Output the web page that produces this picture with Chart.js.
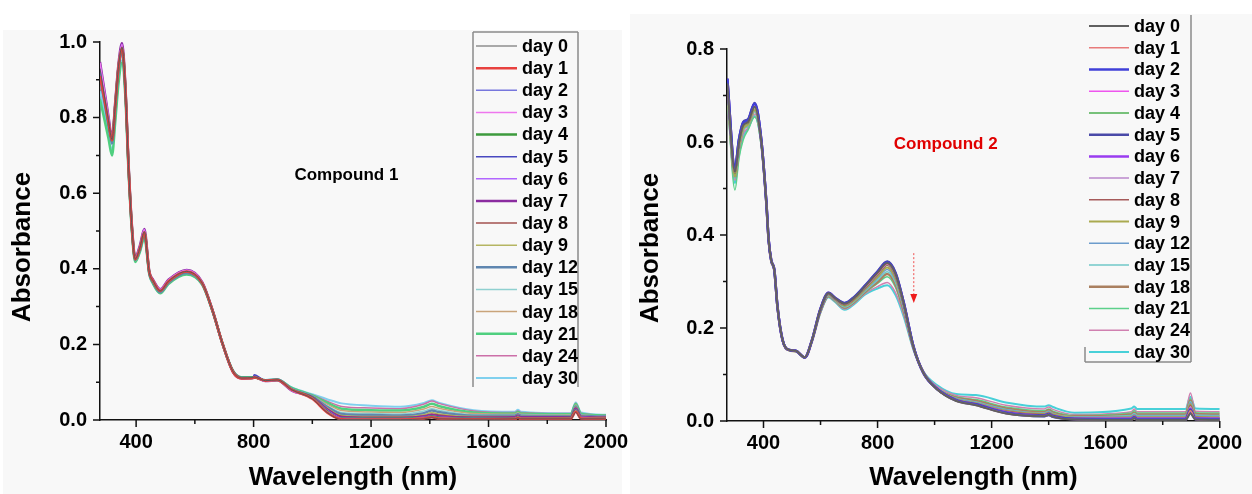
<!DOCTYPE html>
<html>
<head>
<meta charset="utf-8">
<title>Absorbance vs wavelength</title>
<script src="https://cdn.jsdelivr.net/npm/chart.js@4"></script>
<style>
  body { margin: 0; background: #fff; width: 1252px; height: 494px; position: relative; overflow: hidden; }
  .bg { position: absolute; background: #f8f8f8; }
  canvas { position: absolute; top: 0; }
</style>
</head>
<body>
<div class="bg" style="left:3px; top:30px; width:619px; height:464px"></div>
<div class="bg" style="left:630px; top:14px; width:622px; height:480px"></div>
<canvas id="chart1" width="640" height="494" style="left:0"></canvas>
<canvas id="chart2" width="640" height="494" style="left:612px"></canvas>
<script>
const days = ['day 0', 'day 1', 'day 2', 'day 3', 'day 4', 'day 5', 'day 6', 'day 7',
              'day 8', 'day 9', 'day 12', 'day 15', 'day 18', 'day 21', 'day 24', 'day 30'];

const xTicks = [400, 800, 1200, 1600, 2000];
const xMinor = [600, 1000, 1400, 1800];
const yTicks1 = [0, 0.2, 0.4, 0.6, 0.8, 1.0];
const yMinor1 = [0.1, 0.3, 0.5, 0.7, 0.9];
const yTicks2 = [0, 0.2, 0.4, 0.6, 0.8];
const yMinor2 = [0.1, 0.3, 0.5, 0.7];

// ---- Compound 1 ----
const wavelength1 = [277, 294, 306, 318, 329, 340, 352, 363, 374, 386, 397, 413, 428,
  445, 458, 482, 510, 572, 625, 660, 695, 730, 760, 798, 802, 840, 880, 930,
  1000, 1050, 1100, 1200, 1300, 1380, 1407, 1430, 1550, 1690, 1700, 1710, 1880, 1897, 1915, 2000];

const c1d0 = [0.930, 0.848, 0.792, 0.742, 0.836, 0.936, 0.986, 0.886, 0.676, 0.506, 0.426, 0.456, 0.498,
  0.390, 0.368, 0.342, 0.367, 0.393, 0.362, 0.290, 0.200, 0.128, 0.111, 0.112, 0.114, 0.104, 0.106, 0.080,
  0.056, 0.020, 0.001, 0.001, 0.001, 0.003, 0.006, 0.003, 0.002, 0.003, 0.005, 0.003, 0.003, 0.020, 0.003, 0.003];
const c1d1 = [0.910, 0.840, 0.788, 0.740, 0.834, 0.934, 0.984, 0.884, 0.675, 0.505, 0.425, 0.455, 0.497,
  0.390, 0.368, 0.342, 0.367, 0.393, 0.362, 0.290, 0.200, 0.127, 0.110, 0.111, 0.113, 0.104, 0.106, 0.080,
  0.056, 0.020, 0.002, 0.001, 0.001, 0.004, 0.007, 0.004, 0.002, 0.003, 0.006, 0.003, 0.003, 0.022, 0.004, 0.003];
const c1d2 = [0.925, 0.845, 0.790, 0.741, 0.835, 0.935, 0.985, 0.885, 0.675, 0.505, 0.425, 0.455, 0.497,
  0.390, 0.368, 0.342, 0.367, 0.393, 0.362, 0.290, 0.200, 0.128, 0.111, 0.112, 0.114, 0.104, 0.106, 0.080,
  0.057, 0.021, 0.002, 0.002, 0.002, 0.004, 0.007, 0.004, 0.002, 0.003, 0.006, 0.003, 0.004, 0.022, 0.004, 0.003];
const c1d3 = [0.945, 0.860, 0.800, 0.745, 0.840, 0.940, 0.993, 0.890, 0.680, 0.510, 0.430, 0.460, 0.503,
  0.392, 0.370, 0.345, 0.370, 0.396, 0.364, 0.290, 0.200, 0.127, 0.110, 0.111, 0.114, 0.103, 0.105, 0.078,
  0.057, 0.022, 0.003, 0.002, 0.002, 0.005, 0.008, 0.005, 0.003, 0.004, 0.007, 0.004, 0.004, 0.024, 0.005, 0.004];
const c1d4 = [0.920, 0.843, 0.789, 0.740, 0.834, 0.934, 0.984, 0.884, 0.675, 0.505, 0.425, 0.455, 0.496,
  0.390, 0.367, 0.342, 0.367, 0.393, 0.362, 0.290, 0.200, 0.128, 0.111, 0.112, 0.113, 0.104, 0.106, 0.080,
  0.058, 0.023, 0.003, 0.003, 0.003, 0.005, 0.009, 0.006, 0.003, 0.004, 0.008, 0.004, 0.005, 0.025, 0.005, 0.004];
const c1d5 = [0.928, 0.847, 0.791, 0.742, 0.836, 0.936, 0.988, 0.886, 0.676, 0.506, 0.426, 0.456, 0.498,
  0.391, 0.369, 0.343, 0.368, 0.394, 0.363, 0.290, 0.200, 0.127, 0.110, 0.111, 0.120, 0.105, 0.106, 0.079,
  0.058, 0.024, 0.004, 0.003, 0.003, 0.006, 0.010, 0.007, 0.004, 0.005, 0.009, 0.005, 0.005, 0.026, 0.006, 0.005];
const c1d6 = [0.942, 0.858, 0.799, 0.745, 0.840, 0.940, 0.994, 0.890, 0.680, 0.510, 0.430, 0.460, 0.504,
  0.392, 0.370, 0.345, 0.370, 0.396, 0.364, 0.290, 0.200, 0.127, 0.110, 0.111, 0.114, 0.103, 0.105, 0.078,
  0.059, 0.026, 0.005, 0.004, 0.004, 0.007, 0.011, 0.008, 0.005, 0.006, 0.010, 0.006, 0.006, 0.028, 0.007, 0.005];
const c1d7 = [0.947, 0.862, 0.802, 0.747, 0.842, 0.942, 0.997, 0.892, 0.682, 0.511, 0.431, 0.462, 0.505,
  0.393, 0.371, 0.346, 0.371, 0.397, 0.365, 0.291, 0.200, 0.127, 0.110, 0.111, 0.114, 0.103, 0.105, 0.078,
  0.060, 0.028, 0.007, 0.005, 0.005, 0.009, 0.013, 0.010, 0.006, 0.007, 0.011, 0.007, 0.007, 0.030, 0.008, 0.006];
const c1d8 = [0.922, 0.844, 0.790, 0.740, 0.834, 0.934, 0.984, 0.884, 0.675, 0.505, 0.425, 0.455, 0.497,
  0.390, 0.368, 0.342, 0.367, 0.393, 0.362, 0.290, 0.200, 0.128, 0.111, 0.112, 0.114, 0.104, 0.106, 0.080,
  0.060, 0.030, 0.010, 0.007, 0.007, 0.011, 0.016, 0.013, 0.007, 0.008, 0.012, 0.008, 0.008, 0.032, 0.009, 0.007];
const c1d9 = [0.915, 0.840, 0.787, 0.738, 0.832, 0.932, 0.982, 0.883, 0.674, 0.504, 0.424, 0.454, 0.496,
  0.389, 0.367, 0.341, 0.366, 0.392, 0.361, 0.290, 0.200, 0.128, 0.111, 0.112, 0.113, 0.104, 0.106, 0.081,
  0.061, 0.032, 0.012, 0.009, 0.009, 0.014, 0.020, 0.016, 0.009, 0.009, 0.013, 0.009, 0.009, 0.034, 0.010, 0.008];
const c1d12 = [0.905, 0.833, 0.778, 0.732, 0.823, 0.923, 0.973, 0.877, 0.671, 0.501, 0.423, 0.451, 0.492,
  0.387, 0.364, 0.338, 0.363, 0.389, 0.360, 0.289, 0.200, 0.129, 0.112, 0.112, 0.113, 0.105, 0.107, 0.082,
  0.062, 0.035, 0.016, 0.013, 0.012, 0.018, 0.025, 0.021, 0.011, 0.011, 0.015, 0.011, 0.010, 0.036, 0.011, 0.009];
const c1d15 = [0.895, 0.828, 0.774, 0.728, 0.818, 0.918, 0.968, 0.874, 0.670, 0.500, 0.422, 0.450, 0.490,
  0.387, 0.364, 0.338, 0.363, 0.389, 0.360, 0.289, 0.200, 0.129, 0.112, 0.112, 0.113, 0.105, 0.107, 0.083,
  0.063, 0.038, 0.020, 0.017, 0.016, 0.024, 0.030, 0.026, 0.014, 0.013, 0.017, 0.013, 0.012, 0.038, 0.013, 0.010];
const c1d18 = [0.900, 0.830, 0.775, 0.730, 0.820, 0.920, 0.970, 0.875, 0.670, 0.500, 0.422, 0.450, 0.490,
  0.386, 0.363, 0.337, 0.362, 0.388, 0.359, 0.289, 0.200, 0.129, 0.112, 0.112, 0.113, 0.105, 0.107, 0.083,
  0.064, 0.042, 0.025, 0.021, 0.020, 0.029, 0.036, 0.031, 0.017, 0.015, 0.019, 0.015, 0.013, 0.040, 0.014, 0.011];
const c1d21 = [0.848, 0.788, 0.744, 0.700, 0.790, 0.890, 0.945, 0.860, 0.660, 0.495, 0.418, 0.445, 0.482,
  0.385, 0.360, 0.335, 0.360, 0.385, 0.358, 0.288, 0.200, 0.130, 0.113, 0.113, 0.113, 0.105, 0.107, 0.085,
  0.065, 0.046, 0.030, 0.026, 0.025, 0.035, 0.043, 0.037, 0.020, 0.017, 0.021, 0.017, 0.015, 0.042, 0.016, 0.012];
const c1d24 = [0.898, 0.829, 0.775, 0.729, 0.819, 0.919, 0.969, 0.874, 0.670, 0.500, 0.422, 0.450, 0.490,
  0.386, 0.363, 0.337, 0.362, 0.388, 0.359, 0.289, 0.200, 0.130, 0.112, 0.113, 0.113, 0.105, 0.107, 0.084,
  0.066, 0.050, 0.036, 0.032, 0.030, 0.042, 0.050, 0.044, 0.024, 0.020, 0.024, 0.020, 0.017, 0.044, 0.018, 0.013];
const c1d30 = [0.870, 0.805, 0.755, 0.712, 0.800, 0.900, 0.952, 0.864, 0.662, 0.496, 0.419, 0.446, 0.484,
  0.385, 0.361, 0.336, 0.361, 0.386, 0.358, 0.288, 0.200, 0.130, 0.113, 0.113, 0.113, 0.106, 0.108, 0.086,
  0.068, 0.055, 0.044, 0.038, 0.035, 0.045, 0.052, 0.046, 0.026, 0.022, 0.027, 0.022, 0.018, 0.046, 0.020, 0.014];

// ---- Compound 2 ----
const wavelength2 = [273, 300, 314, 329, 346, 369, 392,
  410, 418, 427, 438, 449, 467, 490, 513, 545, 570,
  599, 628, 651, 685, 720, 754, 800, 834, 863, 892, 926, 961,
  1007, 1076, 1145, 1250, 1385, 1400, 1415, 1490, 1690, 1700, 1710, 1880, 1897, 1915, 2000];

const c2d0 = [0.726, 0.536, 0.598, 0.636, 0.643, 0.676, 0.603,
  0.470, 0.390, 0.346, 0.325, 0.246, 0.174, 0.153, 0.151, 0.137, 0.174,
  0.239, 0.275, 0.264, 0.252, 0.266, 0.288, 0.319, 0.340, 0.316, 0.252, 0.159, 0.103,
  0.069, 0.043, 0.034, 0.016, 0.010, 0.013, 0.009, 0.003, 0.002, 0.006, 0.002, 0.002, 0.016, 0.003, 0.002];
const c2d1 = [0.724, 0.534, 0.597, 0.635, 0.642, 0.675, 0.603,
  0.470, 0.390, 0.346, 0.325, 0.246, 0.174, 0.153, 0.151, 0.137, 0.174,
  0.238, 0.274, 0.263, 0.251, 0.265, 0.287, 0.317, 0.338, 0.314, 0.251, 0.159, 0.103,
  0.069, 0.043, 0.034, 0.016, 0.010, 0.013, 0.009, 0.003, 0.002, 0.006, 0.002, 0.002, 0.022, 0.003, 0.002];
const c2d2 = [0.735, 0.543, 0.604, 0.641, 0.647, 0.682, 0.606,
  0.470, 0.390, 0.346, 0.325, 0.246, 0.174, 0.153, 0.151, 0.137, 0.174,
  0.239, 0.275, 0.264, 0.253, 0.267, 0.289, 0.320, 0.341, 0.317, 0.253, 0.160, 0.103,
  0.070, 0.044, 0.035, 0.017, 0.010, 0.013, 0.009, 0.004, 0.003, 0.007, 0.003, 0.003, 0.018, 0.004, 0.003];
const c2d3 = [0.727, 0.536, 0.599, 0.637, 0.643, 0.677, 0.603,
  0.470, 0.390, 0.346, 0.325, 0.246, 0.174, 0.153, 0.151, 0.137, 0.174,
  0.238, 0.274, 0.263, 0.251, 0.265, 0.286, 0.316, 0.337, 0.313, 0.250, 0.158, 0.103,
  0.069, 0.044, 0.035, 0.017, 0.011, 0.014, 0.010, 0.004, 0.003, 0.007, 0.003, 0.003, 0.020, 0.004, 0.003];
const c2d4 = [0.722, 0.532, 0.596, 0.634, 0.641, 0.674, 0.602,
  0.470, 0.390, 0.346, 0.325, 0.246, 0.174, 0.153, 0.151, 0.137, 0.174,
  0.238, 0.274, 0.263, 0.250, 0.264, 0.285, 0.315, 0.336, 0.312, 0.250, 0.158, 0.103,
  0.069, 0.044, 0.035, 0.018, 0.011, 0.014, 0.010, 0.004, 0.004, 0.008, 0.004, 0.004, 0.022, 0.005, 0.004];
const c2d5 = [0.737, 0.545, 0.606, 0.643, 0.649, 0.684, 0.606,
  0.470, 0.390, 0.346, 0.325, 0.246, 0.174, 0.153, 0.151, 0.137, 0.174,
  0.240, 0.276, 0.265, 0.254, 0.268, 0.290, 0.322, 0.343, 0.319, 0.254, 0.160, 0.103,
  0.070, 0.045, 0.036, 0.018, 0.012, 0.015, 0.011, 0.005, 0.004, 0.008, 0.004, 0.004, 0.024, 0.005, 0.004];
const c2d6 = [0.736, 0.544, 0.605, 0.642, 0.648, 0.683, 0.606,
  0.470, 0.390, 0.346, 0.325, 0.246, 0.174, 0.153, 0.151, 0.137, 0.174,
  0.240, 0.276, 0.265, 0.253, 0.267, 0.289, 0.321, 0.342, 0.318, 0.254, 0.160, 0.103,
  0.070, 0.045, 0.036, 0.019, 0.012, 0.015, 0.011, 0.005, 0.005, 0.009, 0.005, 0.005, 0.026, 0.006, 0.005];
const c2d7 = [0.733, 0.542, 0.603, 0.640, 0.646, 0.681, 0.605,
  0.470, 0.390, 0.346, 0.325, 0.246, 0.174, 0.153, 0.151, 0.137, 0.174,
  0.239, 0.275, 0.264, 0.252, 0.266, 0.288, 0.318, 0.339, 0.315, 0.252, 0.159, 0.103,
  0.070, 0.046, 0.037, 0.020, 0.013, 0.016, 0.012, 0.006, 0.006, 0.010, 0.006, 0.006, 0.030, 0.007, 0.006];
const c2d8 = [0.723, 0.533, 0.597, 0.635, 0.642, 0.675, 0.603,
  0.470, 0.390, 0.346, 0.325, 0.246, 0.174, 0.153, 0.151, 0.137, 0.174,
  0.237, 0.273, 0.262, 0.250, 0.263, 0.284, 0.314, 0.335, 0.311, 0.249, 0.158, 0.103,
  0.069, 0.046, 0.037, 0.021, 0.014, 0.017, 0.013, 0.006, 0.007, 0.011, 0.007, 0.007, 0.034, 0.008, 0.007];
const c2d9 = [0.716, 0.526, 0.589, 0.629, 0.638, 0.669, 0.600,
  0.468, 0.388, 0.344, 0.323, 0.245, 0.173, 0.152, 0.150, 0.136, 0.172,
  0.236, 0.272, 0.261, 0.248, 0.261, 0.282, 0.310, 0.330, 0.306, 0.246, 0.157, 0.104,
  0.070, 0.047, 0.038, 0.022, 0.015, 0.018, 0.014, 0.007, 0.008, 0.012, 0.008, 0.008, 0.036, 0.009, 0.008];
const c2d12 = [0.715, 0.525, 0.588, 0.628, 0.637, 0.668, 0.600,
  0.468, 0.388, 0.344, 0.323, 0.245, 0.173, 0.152, 0.150, 0.136, 0.172,
  0.236, 0.271, 0.260, 0.247, 0.260, 0.280, 0.307, 0.326, 0.302, 0.243, 0.157, 0.104,
  0.068, 0.048, 0.040, 0.024, 0.016, 0.020, 0.015, 0.008, 0.010, 0.014, 0.010, 0.010, 0.040, 0.011, 0.010];
const c2d15 = [0.713, 0.522, 0.585, 0.625, 0.635, 0.665, 0.599,
  0.468, 0.388, 0.344, 0.323, 0.245, 0.173, 0.152, 0.150, 0.136, 0.172,
  0.235, 0.270, 0.259, 0.245, 0.258, 0.278, 0.303, 0.321, 0.298, 0.240, 0.156, 0.104,
  0.069, 0.049, 0.041, 0.025, 0.017, 0.021, 0.016, 0.009, 0.012, 0.016, 0.012, 0.012, 0.042, 0.013, 0.012];
const c2d18 = [0.714, 0.524, 0.587, 0.627, 0.636, 0.667, 0.600,
  0.468, 0.388, 0.344, 0.323, 0.245, 0.173, 0.152, 0.150, 0.136, 0.172,
  0.234, 0.269, 0.259, 0.244, 0.257, 0.277, 0.299, 0.316, 0.293, 0.237, 0.156, 0.105,
  0.070, 0.050, 0.043, 0.027, 0.019, 0.023, 0.018, 0.010, 0.014, 0.018, 0.014, 0.014, 0.044, 0.015, 0.014];
const c2d21 = [0.700, 0.497, 0.565, 0.605, 0.626, 0.654, 0.594,
  0.468, 0.388, 0.344, 0.323, 0.245, 0.173, 0.152, 0.150, 0.136, 0.172,
  0.234, 0.268, 0.258, 0.243, 0.256, 0.275, 0.296, 0.310, 0.287, 0.234, 0.155, 0.105,
  0.072, 0.052, 0.046, 0.030, 0.022, 0.026, 0.021, 0.012, 0.017, 0.022, 0.017, 0.017, 0.048, 0.018, 0.017];
const c2d24 = [0.712, 0.518, 0.578, 0.618, 0.631, 0.660, 0.597,
  0.468, 0.388, 0.344, 0.323, 0.245, 0.173, 0.152, 0.150, 0.136, 0.172,
  0.233, 0.267, 0.257, 0.241, 0.254, 0.273, 0.289, 0.298, 0.276, 0.228, 0.154, 0.105,
  0.075, 0.055, 0.050, 0.034, 0.026, 0.030, 0.025, 0.014, 0.020, 0.026, 0.020, 0.020, 0.060, 0.021, 0.020];
const c2d30 = [0.708, 0.512, 0.572, 0.612, 0.629, 0.656, 0.595,
  0.468, 0.388, 0.344, 0.323, 0.245, 0.173, 0.152, 0.150, 0.136, 0.172,
  0.232, 0.266, 0.256, 0.239, 0.252, 0.271, 0.285, 0.292, 0.271, 0.224, 0.153, 0.106,
  0.078, 0.058, 0.056, 0.040, 0.031, 0.034, 0.030, 0.018, 0.027, 0.031, 0.026, 0.026, 0.052, 0.027, 0.026];

const series1 = [c1d0, c1d1, c1d2, c1d3, c1d4, c1d5, c1d6, c1d7, c1d8, c1d9, c1d12, c1d15, c1d18, c1d21, c1d24, c1d30];
const series2 = [c2d0, c2d1, c2d2, c2d3, c2d4, c2d5, c2d6, c2d7, c2d8, c2d9, c2d12, c2d15, c2d18, c2d21, c2d24, c2d30];

// line colours and widths, one per day
const colors1 = ['#5a5a5a', '#e8413f', '#7777dd', '#ee77ee', '#3d9b3d', '#4848c0', '#b266ff', '#8b2ca0',
                 '#a3524f', '#b5b562', '#5f86b0', '#8fd0d0', '#c9a47a', '#4fcf7f', '#cc6fa8', '#80d0ee'];
const widths1 = [1, 2.5, 1.5, 1.5, 2.5, 1.5, 1.5, 2.5, 1.5, 1.5, 2.5, 1.5, 1.5, 2.5, 1.5, 2];
const colors2 = ['#606060', '#e87a7a', '#4040d8', '#ee55ee', '#4caf50', '#4a4aa8', '#9a3cf0', '#bb88cc',
                 '#a65a5a', '#aaaa50', '#6c9ccc', '#70c8c8', '#aa8060', '#5cd08a', '#d080b0', '#48d0d8'];
const widths2 = [2, 1.5, 2.5, 1.5, 1.5, 2.5, 2.5, 1.5, 1.5, 2, 1.5, 1.5, 2.5, 1.5, 1.5, 2];

const FONT = '"Liberation Sans", Arial, Helvetica, sans-serif';
Chart.defaults.font.family = FONT;
Chart.defaults.font.weight = 'bold';
Chart.defaults.color = '#000';

// axis ticks, y title, legend box, labels and arrow
function makeDecor(cfg) {
  return {
    id: 'decor',
    afterDraw(chart) {
      const { ctx, chartArea: a, scales: { x, y } } = chart;
      ctx.save();

      ctx.strokeStyle = '#111';
      ctx.lineWidth = 1.5;
      ctx.beginPath();
      xTicks.forEach(v => { const p = x.getPixelForValue(v); ctx.moveTo(p, a.bottom); ctx.lineTo(p, a.bottom + 7); });
      xMinor.forEach(v => { const p = x.getPixelForValue(v); ctx.moveTo(p, a.bottom); ctx.lineTo(p, a.bottom + 4); });
      cfg.yTicks.forEach(v => { const p = y.getPixelForValue(v); ctx.moveTo(a.left, p); ctx.lineTo(a.left - 7, p); });
      cfg.yMinor.forEach(v => { const p = y.getPixelForValue(v); ctx.moveTo(a.left, p); ctx.lineTo(a.left - 4, p); });
      ctx.stroke();

      // y axis title
      ctx.fillStyle = '#000';
      ctx.font = 'bold 26px ' + FONT;
      ctx.textAlign = 'center';
      ctx.textBaseline = 'middle';
      ctx.save();
      ctx.translate(cfg.yTitle[0], cfg.yTitle[1]);
      ctx.rotate(-Math.PI / 2);
      ctx.fillText('Absorbance', 0, 0);
      ctx.restore();

      // compound label
      ctx.font = 'bold 17px ' + FONT;
      ctx.fillStyle = cfg.label.color;
      ctx.fillText(cfg.label.text, x.getPixelForValue(cfg.label.at[0]), y.getPixelForValue(cfg.label.at[1]));

      // legend frame
      const L = cfg.legend;
      ctx.strokeStyle = '#8a8a8a';
      ctx.lineWidth = 1.5;
      ctx.beginPath();
      L.frame.forEach(s => { ctx.moveTo(s[0], s[1]); ctx.lineTo(s[2], s[3]); });
      ctx.stroke();

      // legend entries
      ctx.font = 'bold 18px ' + FONT;
      ctx.textAlign = 'left';
      ctx.fillStyle = '#000';
      chart.data.datasets.forEach((ds, i) => {
        const yy = L.y0 + i * L.dy;
        ctx.strokeStyle = ds.borderColor;
        ctx.lineWidth = ds.borderWidth;
        ctx.beginPath();
        ctx.moveTo(L.x0, yy);
        ctx.lineTo(L.x1, yy);
        ctx.stroke();
        ctx.fillText(ds.label, L.tx, yy + 1);
      });

      // arrow marking the decreasing band
      if (cfg.arrow) {
        const ax = x.getPixelForValue(cfg.arrow.x);
        const y0 = y.getPixelForValue(cfg.arrow.from);
        const y1 = y.getPixelForValue(cfg.arrow.to);
        ctx.strokeStyle = '#f05050';
        ctx.lineWidth = 1;
        ctx.setLineDash([2, 2]);
        ctx.beginPath();
        ctx.moveTo(ax, y0);
        ctx.lineTo(ax, y1 - 8);
        ctx.stroke();
        ctx.setLineDash([]);
        ctx.fillStyle = '#ee1c1c';
        ctx.beginPath();
        ctx.moveTo(ax - 3.5, y1 - 9);
        ctx.lineTo(ax + 3.5, y1 - 9);
        ctx.lineTo(ax, y1);
        ctx.closePath();
        ctx.fill();
      }
      ctx.restore();
    }
  };
}

function makeChart(id, cfg) {
  const datasets = cfg.series.map((arr, i) => ({
    label: days[i],
    data: cfg.wavelength.map((w, k) => ({ x: w, y: arr[k] })),
    borderColor: cfg.colors[i],
    borderWidth: cfg.widths[i],
    pointRadius: 0,
    cubicInterpolationMode: 'monotone',
    fill: false
  }));

  return new Chart(document.getElementById(id), {
    type: 'line',
    data: { datasets },
    options: {
      responsive: false,
      animation: false,
      layout: { padding: cfg.padding },
      plugins: { legend: { display: false }, tooltip: { enabled: false } },
      scales: {
        x: {
          type: 'linear',
          min: cfg.xMin,
          max: 2000,
          afterBuildTicks: s => { s.ticks = xTicks.map(v => ({ value: v })); },
          afterFit: s => { s.height = cfg.xHeight; },
          grid: { display: false, drawTicks: false },
          border: { display: true, color: '#111', width: 1.5 },
          ticks: { font: { size: 20, weight: 'bold' }, color: '#000', padding: 10, maxRotation: 0, autoSkip: false,
                   callback: v => String(v) },
          title: { display: true, text: 'Wavelength (nm)', color: '#000',
                   font: { size: 26, weight: 'bold' }, padding: { top: 0, bottom: 1 } }
        },
        y: {
          type: 'linear',
          min: 0,
          max: cfg.yMax,
          afterBuildTicks: s => { s.ticks = cfg.yTicks.map(v => ({ value: v })); },
          afterFit: s => { s.width = cfg.yWidth; },
          grid: { display: false, drawTicks: false },
          border: { display: true, color: '#111', width: 1.5 },
          ticks: { font: { size: 20, weight: 'bold' }, color: '#000', padding: 13,
                   callback: v => v.toFixed(1) }
        }
      }
    },
    plugins: [makeDecor(cfg)]
  });
}

makeChart('chart1', {
  wavelength: wavelength1, series: series1, colors: colors1, widths: widths1,
  xMin: 277, yMax: 1.0, yTicks: yTicks1, yMinor: yMinor1,
  padding: { left: 0, top: 42, right: 34, bottom: 0 }, yWidth: 100, xHeight: 74,
  yTitle: [23, 247],
  label: { text: 'Compound 1', color: '#000', at: [1116, 0.648] },
  legend: {
    frame: [[473, 32, 578, 32], [473, 32, 473, 387], [578, 32, 578, 387]],
    x0: 476, x1: 517, tx: 522, y0: 46, dy: 22.13
  }
});

makeChart('chart2', {
  wavelength: wavelength2, series: series2, colors: colors2, widths: widths2,
  xMin: 272, yMax: 0.8, yTicks: yTicks2, yMinor: yMinor2,
  padding: { left: 0, top: 49, right: 25, bottom: 0 }, yWidth: 115, xHeight: 73,
  yTitle: [39, 248],
  label: { text: 'Compound 2', color: '#e00000', at: [1039, 0.596] },
  legend: {
    frame: [[579, 15, 579, 362], [473, 362, 579, 362], [473, 347, 473, 362]],
    x0: 477, x1: 517, tx: 522, y0: 26, dy: 21.73
  },
  arrow: { x: 927, from: 0.361, to: 0.254 }
});
</script>
</body>
</html>
